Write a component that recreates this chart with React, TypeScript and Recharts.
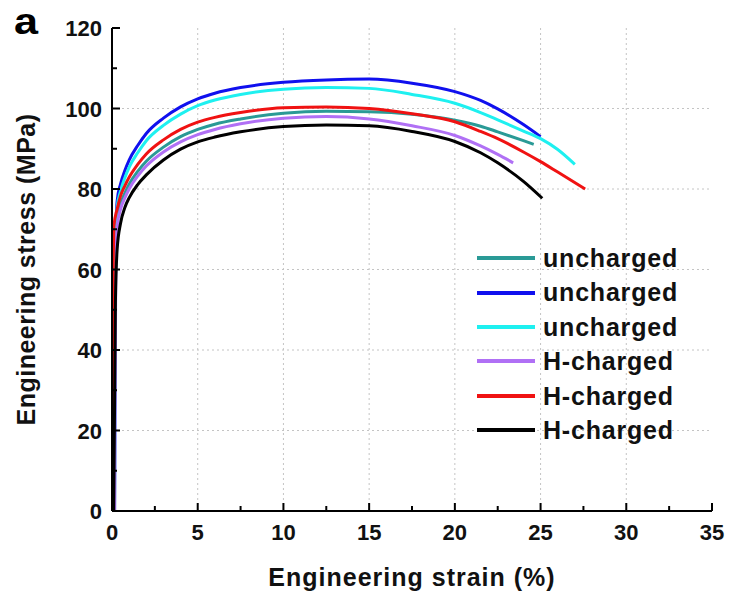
import React from 'react';
import {
  LineChart,
  Line,
  XAxis,
  YAxis,
  CartesianGrid,
  Legend,
} from 'recharts';

// strain (%) / stress (MPa) pairs
const uncharged1: [number, number][] = [
  [0.1, 0], [0.15, 60], [0.3, 72.5], [0.5, 76.3], [0.75, 79.0], [1, 81.2], [1.5, 84.4],
  [2, 86.9], [3, 90.4], [4, 93.0], [5, 94.8], [6, 96.1], [7.5, 97.4], [10, 98.8],
  [12.5, 99.3], [15, 99.2], [17.5, 98.6], [20, 97.1], [21.5, 95.6], [22.5, 94.2],
  [24, 92.0], [24.6, 91.1],
];
const uncharged2: [number, number][] = [
  [0.15, 0], [0.2, 65], [0.3, 77], [0.5, 81.3], [0.75, 84.6], [1, 87.2], [1.5, 90.8],
  [2, 93.8], [3, 97.6], [4, 100.4], [5, 102.4], [6, 103.8], [7.5, 105.2], [10, 106.5],
  [12.5, 107.1], [15, 107.3], [17.5, 106.3], [20, 104.2], [21.5, 102.0], [22.5, 99.9],
  [24, 96.0], [25, 93.0],
];
const uncharged3: [number, number][] = [
  [0.15, 0], [0.2, 63], [0.3, 75.5], [0.5, 79.5], [0.75, 82.8], [1, 85.4], [1.5, 89.0],
  [2, 92.0], [3, 95.8], [4, 98.6], [5, 100.7], [6, 102.1], [7.5, 103.5], [10, 104.8],
  [12.5, 105.2], [15, 105.0], [17.5, 103.5], [20, 101.3], [21.5, 99.0], [22.5, 97.2],
  [24, 94.4], [25, 92.5], [26, 89.8], [27, 86.1],
];
const hCharged1: [number, number][] = [
  [0.15, 0], [0.22, 60], [0.3, 70.5], [0.5, 75.0], [0.75, 77.8], [1, 80.0], [1.5, 83.2],
  [2, 85.7], [3, 89.2], [4, 91.7], [5, 93.5], [6, 94.8], [7.5, 96.2], [10, 97.6],
  [12.5, 98.0], [15, 97.4], [17.5, 95.7], [20, 93.3], [21.5, 90.7], [22.5, 88.6],
  [23.4, 86.5],
];
const hCharged2: [number, number][] = [
  [0.05, 0], [0.07, 60], [0.12, 71], [0.3, 75.0], [0.5, 78.3], [0.75, 80.8], [1, 82.9],
  [1.5, 86.1], [2, 88.7], [3, 92.2], [4, 94.8], [5, 96.6], [6, 97.8], [7.5, 99.0],
  [10, 100.2], [12.5, 100.4], [15, 100.0], [17.5, 98.7], [20, 96.7], [21.5, 94.3],
  [22.5, 92.5], [24, 89.2], [25, 86.8], [26, 84.2], [27.6, 80.0],
];
const hCharged3: [number, number][] = [
  [0.1, 0], [0.2, 52], [0.3, 65], [0.5, 71.5], [0.75, 75.4], [1, 77.8], [1.5, 81.1],
  [2, 83.5], [3, 87.2], [4, 89.9], [5, 91.7], [6, 92.9], [7.5, 94.2], [10, 95.5],
  [12.5, 95.9], [15, 95.7], [17.5, 94.3], [20, 91.8], [21.5, 89.0], [22.5, 86.5],
  [24, 81.9], [25.1, 77.7],
];

const seriesNames = ['uncharged', 'uncharged', 'uncharged', 'H-charged', 'H-charged', 'H-charged'];
const seriesColors = ['#2a9a96', '#1010ee', '#1ef0f0', '#b070f5', '#f01212', '#000000'];
const seriesData = [uncharged1, uncharged2, uncharged3, hCharged1, hCharged2, hCharged3];

const xTicks = [0, 2.5, 5, 7.5, 10, 12.5, 15, 17.5, 20, 22.5, 25, 27.5, 30, 32.5, 35];
const yTicks = [0, 10, 20, 30, 40, 50, 60, 70, 80, 90, 100, 110, 120];
const xGrid = [5, 10, 15, 20, 25, 30];
const yGrid = [20, 40, 60, 80, 100];

const FONT = '"Liberation Sans", Arial, sans-serif';

const BottomTick = ({ x, y, payload }: any) => {
  const major = payload.value % 5 === 0;
  return (
    <g>
      <line x1={x} x2={x} y1={y} y2={y - (major ? 8 : 5)} stroke="#000" strokeWidth={2} />
      {major && (
        <text x={x} y={y + 29} textAnchor="middle" fontFamily={FONT} fontWeight="bold" fontSize={22} fill="#111">
          {payload.value}
        </text>
      )}
    </g>
  );
};

const TopTick = ({ x, y, payload }: any) => {
  const major = payload.value % 5 === 0;
  return <line x1={x} x2={x} y1={y} y2={y + (major ? 8 : 5)} stroke="#000" strokeWidth={2} />;
};

const LeftTick = ({ x, y, payload }: any) => {
  const major = payload.value % 20 === 0;
  return (
    <g>
      <line x1={x} x2={x + (major ? 8 : 5)} y1={y} y2={y} stroke="#000" strokeWidth={2} />
      {major && (
        <text x={x - 10} y={y + 8} textAnchor="end" fontFamily={FONT} fontWeight="bold" fontSize={22} fill="#111">
          {payload.value}
        </text>
      )}
    </g>
  );
};

const RightTick = ({ x, y, payload }: any) => {
  const major = payload.value % 20 === 0;
  return <line x1={x} x2={x - (major ? 8 : 5)} y1={y} y2={y} stroke="#000" strokeWidth={2} />;
};

const LegendBox = () => (
  <div style={{ fontFamily: FONT, fontWeight: 'bold', fontSize: 25, letterSpacing: 0.8, color: '#111' }}>
    {seriesNames.map((name, i) => (
      <div key={`lg-${i}`} style={{ display: 'flex', alignItems: 'center', height: 34.4 }}>
        <svg width={58} height={6} style={{ display: 'block' }}>
          <line x1={0} x2={58} y1={3} y2={3} stroke={seriesColors[i]} strokeWidth={4} />
        </svg>
        <span style={{ marginLeft: 8, lineHeight: '34.4px', whiteSpace: 'nowrap' }}>{name}</span>
      </div>
    ))}
  </div>
);

export default function App() {
  return (
    <div style={{ position: 'absolute', left: 0, top: 0, width: 730, height: 598, background: '#fff' }}>
      <div
        style={{
          position: 'absolute', left: 14, top: 1, fontFamily: FONT, fontWeight: 'bold',
          fontSize: 36, color: '#000', zIndex: 2, transform: 'scaleX(1.2)', transformOrigin: 'left top',
        }}
      >
        a
      </div>
      <LineChart width={730} height={598} margin={{ top: 28, right: 18, left: 0, bottom: 0 }}>
        <CartesianGrid
          stroke="#c4c4c4"
          strokeDasharray="2 3"
          horizontalValues={yGrid}
          verticalValues={xGrid}
        />
        <XAxis
          type="number"
          dataKey="x"
          domain={[0, 35]}
          ticks={xTicks}
          interval={0}
          allowDataOverflow
          height={87}
          tickSize={0}
          tickMargin={0}
          tickLine={false}
          axisLine={{ stroke: '#000', strokeWidth: 2 }}
          tick={<BottomTick />}
          label={{
            value: 'Engineering strain (%)',
            position: 'insideBottom',
            offset: 12,
            style: { fontFamily: FONT, fontWeight: 'bold', fontSize: 25, letterSpacing: 1, fill: '#111' },
          }}
        />
        <XAxis
          xAxisId="top"
          orientation="top"
          type="number"
          domain={[0, 35]}
          ticks={xTicks}
          interval={0}
          height={0}
          tickSize={0}
          tickMargin={0}
          tickLine={false}
          axisLine={{ stroke: '#000', strokeWidth: 2 }}
          tick={<TopTick />}
        />
        <YAxis
          type="number"
          domain={[0, 120]}
          ticks={yTicks}
          interval={0}
          allowDataOverflow
          width={112}
          tickSize={0}
          tickMargin={0}
          tickLine={false}
          axisLine={{ stroke: '#000', strokeWidth: 2 }}
          tick={<LeftTick />}
          label={{
            value: 'Engineering stress (MPa)',
            angle: -90,
            position: 'insideLeft',
            offset: 26,
            style: { textAnchor: 'middle', fontFamily: FONT, fontWeight: 'bold', fontSize: 25, letterSpacing: 0.5, fill: '#111' },
          }}
        />
        <YAxis
          yAxisId="right"
          orientation="right"
          type="number"
          domain={[0, 120]}
          ticks={yTicks}
          interval={0}
          width={0}
          tickSize={0}
          tickMargin={0}
          tickLine={false}
          axisLine={{ stroke: '#000', strokeWidth: 2 }}
          tick={<RightTick />}
        />
        <Legend
          layout="vertical"
          align="center"
          verticalAlign="middle"
          content={<LegendBox />}
          wrapperStyle={{ left: 477, top: 241, width: 'auto' }}
        />
        {seriesData.map((pts, i) => (
          <Line
            key={`s-${i}`}
            data={pts.map(([x, y]) => ({ x, y }))}
            dataKey="y"
            name={seriesNames[i]}
            type="monotone"
            stroke={seriesColors[i]}
            strokeWidth={3}
            dot={false}
            activeDot={false}
            isAnimationActive={false}
          />
        ))}
      </LineChart>
    </div>
  );
}
